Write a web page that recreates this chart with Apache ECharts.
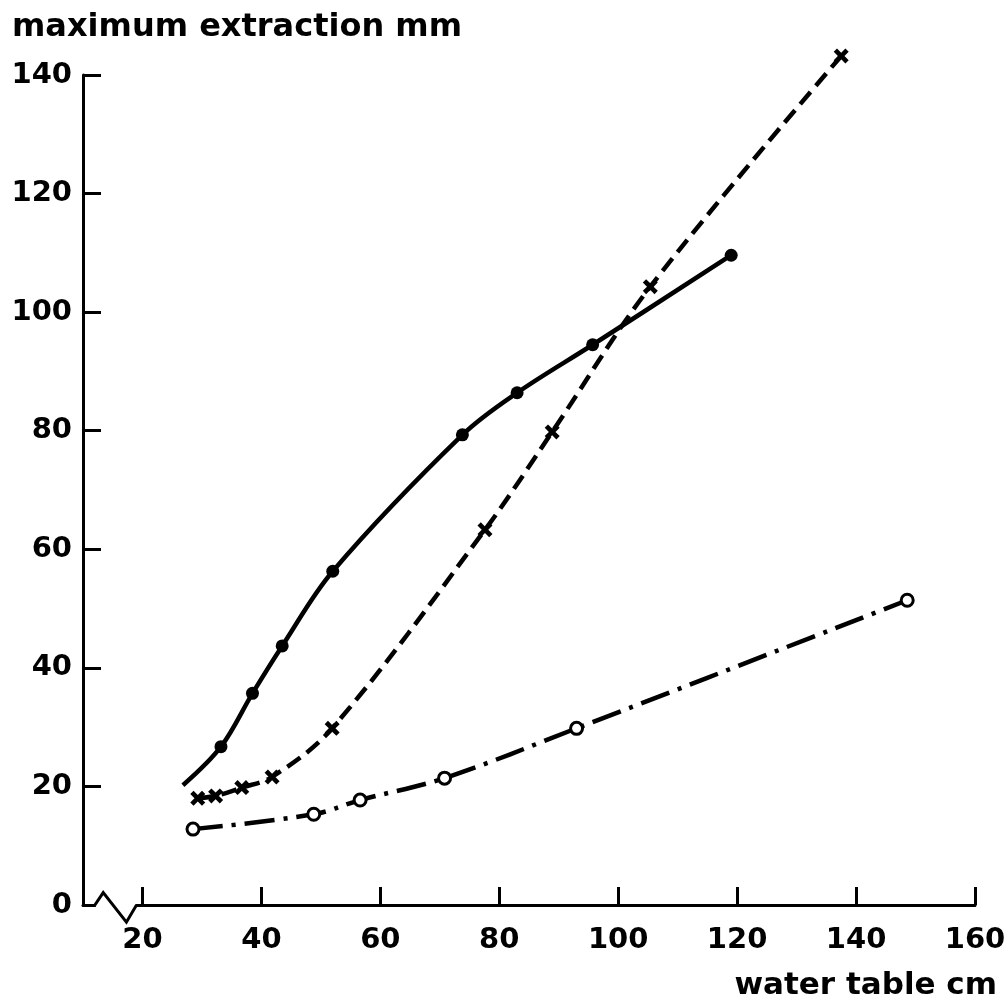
<!DOCTYPE html>
<html>
<head>
<meta charset="utf-8">
<script src="https://cdn.jsdelivr.net/npm/echarts@6/dist/echarts.min.js"></script>
<style>
html,body{margin:0;padding:0;background:#fff;}
#c{width:1007px;height:1003px;}
</style>
</head>
<body>
<div id="c"></div>
<script>
// ---- data ----
const xTicks = [20, 40, 60, 80, 100, 120, 140, 160];
const yTicks = [0, 20, 40, 60, 80, 100, 120, 140];

// solid line with filled dots (first point is the curve start, no marker)
const solidX = [26.8, 33.2, 38.5, 43.5, 52.0, 73.8, 83.0, 95.7, 119.0];
const solidY = [20.2, 26.7, 35.7, 43.7, 56.3, 79.3, 86.4, 94.5, 109.6];

// dashed line with crosses
const dashedX = [29.3, 32.3, 36.7, 41.8, 51.9, 77.6, 88.9, 105.4, 137.5];
const dashedY = [18.0, 18.4, 19.8, 21.6, 29.8, 63.3, 79.8, 104.3, 143.2];

// dash-dot line with open circles
const dashDotX = [28.5, 48.8, 56.6, 70.8, 93.0, 148.6];
const dashDotY = [12.8, 15.3, 17.7, 21.4, 29.8, 51.4];

// axis-break zigzag (in axis units)
const breakX = [12.0, 13.4, 17.3, 19.0];
const breakY = [0, 2.1, -2.9, 0];

const FONT = 'DejaVu Sans';
const crossPath = 'path://M2.2,0 L5,2.8 L7.8,0 L10,2.2 L7.2,5 L10,7.8 L7.8,10 L5,7.2 L2.2,10 L0,7.8 L2.8,5 L0,2.2 Z';

function pairs(xs, ys) { return xs.map((x, i) => [x, ys[i]]); }

const chart = echarts.init(document.getElementById('c'), null, {renderer: 'canvas'});

const solidData = pairs(solidX, solidY).map((p, i) =>
  i === 0 ? {value: p, symbol: 'none'} : {value: p});

const option = {
  backgroundColor: '#fff',
  animation: false,
  title: [
    {text: 'maximum extraction mm', left: 12, top: 12, padding: 0,
     textStyle: {fontFamily: FONT, fontSize: 32, fontWeight: 'bold', color: '#000'}},
    {text: 'water table cm', right: 10, top: 970, padding: 0,
     textStyle: {fontFamily: FONT, fontSize: 31, fontWeight: 'bold', color: '#000'}}
  ],
  grid: {left: 83, right: 32, top: 75, bottom: 98, outerBoundsMode: 'none', containLabel: false},
  xAxis: {
    type: 'value', min: 10, max: 160,
    axisLine: {show: true, onZero: false, lineStyle: {color: '#000', width: 3}},
    axisTick: {show: true, inside: true, length: 18, customValues: xTicks,
               lineStyle: {color: '#000', width: 3}},
    axisLabel: {customValues: xTicks, margin: 21, color: '#000',
                fontFamily: FONT, fontSize: 29, fontWeight: 'bold'},
    splitLine: {show: false}
  },
  yAxis: {
    type: 'value', min: 0, max: 140, interval: 20,
    axisLine: {show: true, onZero: false, lineStyle: {color: '#000', width: 3}},
    axisTick: {show: true, inside: true, length: 18, lineStyle: {color: '#000', width: 3}},
    axisLabel: {margin: 11, color: '#000', fontFamily: FONT, fontSize: 29, fontWeight: 'bold',
                customValues: yTicks},
    splitLine: {show: false}
  },
  series: [
    {
      type: 'line', name: 'solid', data: solidData, smooth: 0.35, clip: false,
      symbol: 'circle', symbolSize: 13,
      itemStyle: {color: '#000'},
      lineStyle: {color: '#000', width: 4.5, type: 'solid'}
    },
    {
      type: 'line', name: 'dashed', data: pairs(dashedX, dashedY), smooth: 0.35, clip: false,
      symbol: crossPath, symbolSize: 15,
      itemStyle: {color: '#000'},
      lineStyle: {color: '#000', width: 4.5, type: [16, 8]}
    },
    {
      type: 'line', name: 'dashdot', data: pairs(dashDotX, dashDotY), smooth: 0.35, clip: false,
      symbol: 'circle', symbolSize: 12,
      itemStyle: {color: '#fff', borderColor: '#000', borderWidth: 3},
      lineStyle: {color: '#000', width: 4.5, type: [30, 9, 4, 9]}
    }
  ]
};

chart.setOption(option);

// axis-break zigzag placed through the library's own scales
const pts = breakX.map((x, i) => chart.convertToPixel({gridIndex: 0}, [x, breakY[i]]));
const origin = chart.convertToPixel({gridIndex: 0}, [breakX[0], 0]);
const endP = chart.convertToPixel({gridIndex: 0}, [breakX[breakX.length - 1], 0]);
chart.setOption({
  graphic: [
    {type: 'rect', z: 100,
     shape: {x: origin[0] + 1, y: origin[1] - 3, width: endP[0] - origin[0] - 2, height: 6},
     style: {fill: '#fff'}},
    {type: 'polyline', z: 101,
     shape: {points: pts},
     style: {stroke: '#000', lineWidth: 3, fill: null, lineJoin: 'miter'}}
  ]
});
</script>
</body>
</html>
